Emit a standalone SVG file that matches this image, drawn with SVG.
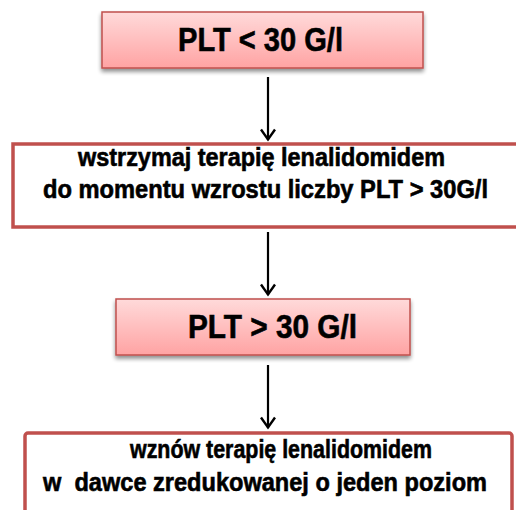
<svg xmlns="http://www.w3.org/2000/svg" width="516" height="510" viewBox="0 0 516 510">
<defs>
<linearGradient id="pink" x1="0" y1="0" x2="0" y2="1">
<stop offset="0" stop-color="#ffdada"/>
<stop offset="1" stop-color="#ffa3a3"/>
</linearGradient>
<filter id="sh" x="-5%" y="-10%" width="110%" height="140%">
<feGaussianBlur in="SourceAlpha" stdDeviation="2"/>
<feOffset dy="3"/>
<feComponentTransfer><feFuncA type="linear" slope="0.45"/></feComponentTransfer>
<feMerge><feMergeNode/><feMergeNode in="SourceGraphic"/></feMerge>
</filter>
<marker id="arr" viewBox="0 0 14 16" refX="12.5" refY="8" markerWidth="14" markerHeight="16" markerUnits="userSpaceOnUse" orient="auto">
<path d="M2,1 L12,8 L2,15" fill="none" stroke="#000" stroke-width="2.4"/>
</marker>
</defs>
<style>
.pk{fill:url(#pink);stroke:#c0504d;stroke-width:1.5;}
.wb{fill:#fff;stroke:#c0504d;stroke-width:3.5;}
.t{font-family:"Liberation Sans",Arial,sans-serif;font-weight:bold;fill:#000;stroke:#000;stroke-width:0.6;text-anchor:start;}
.c{stroke:#000;stroke-width:2.2;fill:none;marker-end:url(#arr);}
</style>
<g id="connectors">
<line class="c" x1="268" y1="77" x2="268" y2="140"/>
<line class="c" x1="268" y1="232" x2="268" y2="295"/>
<line class="c" x1="268" y1="365" x2="268" y2="428"/>
</g>
<g id="n1">
<rect class="pk" x="102" y="12" width="321" height="56" filter="url(#sh)"/>
<text class="t" x="178" y="51" font-size="33" textLength="165" lengthAdjust="spacingAndGlyphs">PLT &lt; 30 G/l</text>
</g>
<g id="n2">
<rect class="wb" x="13" y="144" width="510" height="83"/>
<text class="t" x="78" y="166" font-size="25" textLength="367" lengthAdjust="spacingAndGlyphs">wstrzymaj terapię lenalidomidem</text>
<text class="t" x="43" y="198" font-size="25" textLength="445" lengthAdjust="spacingAndGlyphs">do momentu wzrostu liczby PLT &gt; 30G/l</text>
</g>
<g id="n3">
<rect class="pk" x="116" y="299" width="294" height="56" filter="url(#sh)"/>
<text class="t" x="188" y="338" font-size="33" textLength="169" lengthAdjust="spacingAndGlyphs">PLT &gt; 30 G/l</text>
</g>
<g id="n4">
<rect class="wb" x="25" y="433" width="487" height="90" rx="3"/>
<text class="t" x="130" y="458" font-size="25" textLength="302" lengthAdjust="spacingAndGlyphs">wznów terapię lenalidomidem</text>
<text class="t" x="43" y="491" font-size="25" textLength="444" lengthAdjust="spacingAndGlyphs" xml:space="preserve">w  dawce zredukowanej o jeden poziom</text>
</g>
</svg>
